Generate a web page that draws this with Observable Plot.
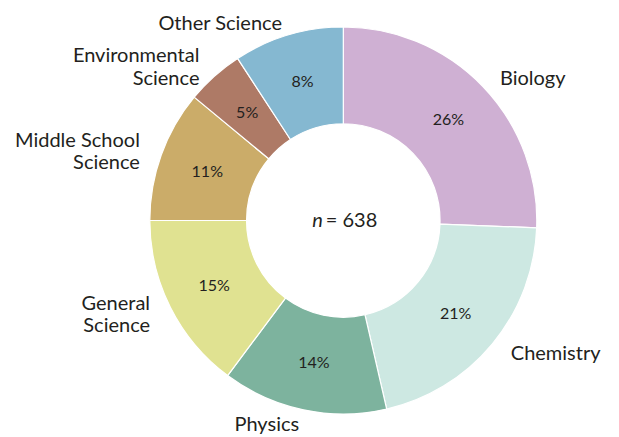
<!DOCTYPE html>
<html><head><meta charset="utf-8">
<script src="https://cdn.jsdelivr.net/npm/d3@7"></script>
<script src="https://cdn.jsdelivr.net/npm/@observablehq/plot@0.6"></script>
<style>
body{margin:0;background:#fff;}
#chart{width:619px;height:437px;}
</style>
</head><body><div id="chart"></div>
<script>
// ---- data ----
const categories = ["Biology","Chemistry","Physics","General Science","Middle School Science","Environmental Science","Other Science"];
const labelLines = ["Biology","Chemistry","Physics","General\nScience","Middle School\nScience","Environmental\nScience","Other Science"];
const shares = [25.6, 20.8, 13.8, 14.8, 11.0, 4.8, 9.2];
const percentLabels = ["26%","21%","14%","15%","11%","5%","8%"];
const colors = ["#cfb0d3","#cde8e2","#7db39e","#e0e291","#cbac69","#ae7a66","#85b8d1"];
const sampleSize = 638;

// ---- layout ----
const innerRatio = 0.5;
const pctRadius = 0.75;
const labelRadiusX = 1.12;
const labelRadiusY = 1.07;
const FONT = "Lato, 'Open Sans', sans-serif";

const table = categories.map((c, i) => ({category: c, label: labelLines[i], share: shares[i], pct: percentLabels[i], color: colors[i]}));
const arcs = d3.pie().sort(null).value(d => d.share)(table);
const slices = arcs.map(a => {
  const mid = (a.startAngle + a.endAngle) / 2;
  return {...a.data, startAngle: a.startAngle, endAngle: a.endAngle, mid,
    px: pctRadius * Math.sin(mid), py: pctRadius * Math.cos(mid),
    lx: labelRadiusX * Math.sin(mid), ly: labelRadiusY * Math.cos(mid)};
});

function donut(index, scales, values, dimensions) {
  const cx = scales.x(0), cy = scales.y(0);
  const r = scales.x(1) - scales.x(0);
  const arc = d3.arc().outerRadius(r).innerRadius(r * innerRatio);
  const g = d3.create("svg:g").attr("transform", `translate(${cx},${cy})`);
  g.selectAll("path").data(slices).join("path")
    .attr("d", d => arc(d))
    .attr("fill", d => d.color)
    .attr("stroke", "#ffffff")
    .attr("stroke-width", 1.2)
    .attr("stroke-linejoin", "round");
  return g.node();
}

const plot = Plot.plot({
  width: 619,
  height: 437,
  marginLeft: 149.8,
  marginRight: 82.2,
  marginTop: 27,
  marginBottom: 23,
  x: {domain: [-1, 1], axis: null},
  y: {domain: [-1, 1], axis: null},
  style: {fontFamily: FONT, background: "#fff", overflow: "visible"},
  marks: [
    donut,
    Plot.text(slices, {x: "px", y: "py", text: "pct", fontSize: 16, fill: "#231f20", textAnchor: "middle"}),
    Plot.text(slices.filter(d => d.mid < Math.PI), {x: "lx", y: "ly", text: "label", fontSize: 20, fill: "#231f20", textAnchor: "start", lineHeight: 1.13}),
    Plot.text(slices.filter(d => d.mid >= Math.PI), {x: "lx", y: "ly", text: "label", fontSize: 20, fill: "#231f20", textAnchor: "end", lineHeight: 1.13}),
    Plot.text([{x: 0, y: 0}], {x: "x", y: "y", text: () => "n", fontSize: 20, fontStyle: "italic", fill: "#231f20", textAnchor: "end", dx: -21}),
    Plot.text([{x: 0, y: 0}], {x: "x", y: "y", text: () => "= " + sampleSize, fontSize: 20, fill: "#231f20", textAnchor: "start", dx: -18})
  ]
});
document.getElementById("chart").appendChild(plot);
</script>
</body></html>
